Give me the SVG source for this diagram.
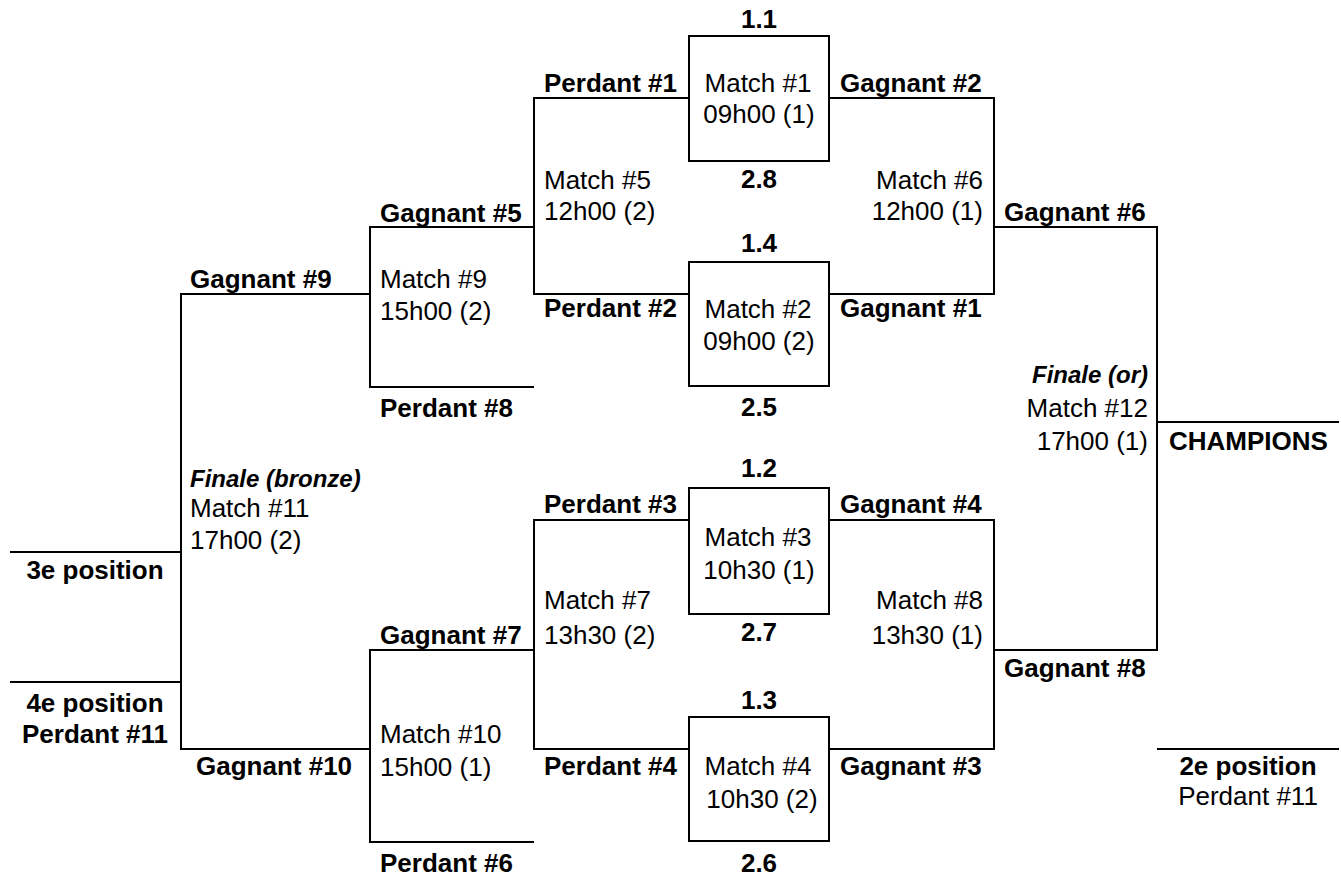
<svg xmlns="http://www.w3.org/2000/svg" width="1341" height="882" viewBox="0 0 1341 882">
<style>
.ln{fill:none;stroke:#000;stroke-width:2}
.bx{fill:#fff;stroke:#000;stroke-width:2}
text{font-family:"Liberation Sans",Arial,sans-serif;font-size:26px;fill:#000}
.b{font-weight:bold}
.i{font-style:italic;font-size:24px}
.m{text-anchor:middle}
.e{text-anchor:end}
</style>
<rect width="1341" height="882" fill="#fff"/>
<g id="connectors">
<path class="ln" d="M689,98 H534 V294 H689"/>
<path class="ln" d="M829,98 H994 V294 H829"/>
<path class="ln" d="M689,520 H534 V749 H689"/>
<path class="ln" d="M829,520 H994 V749 H829"/>
<path class="ln" d="M534,227 H370 V387 H534"/>
<path class="ln" d="M534,650 H370 V842 H534"/>
<path class="ln" d="M370,294 H181 V749 H370"/>
<path class="ln" d="M994,227 H1157 V650 H994"/>
<path class="ln" d="M10,552 H181"/>
<path class="ln" d="M10,682 H181"/>
<path class="ln" d="M1157,422 H1339"/>
<path class="ln" d="M1157,749 H1339"/>
<g id="connector-labels">
<text class="b" x="544" y="92">Perdant #1</text>
<text class="b" x="840" y="92">Gagnant #2</text>
<text class="b" x="544" y="317">Perdant #2</text>
<text class="b" x="840" y="317">Gagnant #1</text>
<text class="b" x="544" y="513">Perdant #3</text>
<text class="b" x="840" y="513">Gagnant #4</text>
<text class="b" x="544" y="775">Perdant #4</text>
<text class="b" x="840" y="775">Gagnant #3</text>
<text class="b" x="380" y="222">Gagnant #5</text>
<text class="b" x="1004" y="221">Gagnant #6</text>
<text class="b" x="380" y="417">Perdant #8</text>
<text class="b" x="380" y="644">Gagnant #7</text>
<text class="b" x="1004" y="677">Gagnant #8</text>
<text class="b" x="380" y="872">Perdant #6</text>
<text class="b" x="190" y="288">Gagnant #9</text>
<text class="b" x="196" y="775">Gagnant #10</text>
</g>
</g>
<g id="match1">
<rect class="bx" x="689" y="36" width="140" height="125"/>
<text class="b m" x="759" y="28">1.1</text>
<text class="m" x="758" y="92">Match #1</text>
<text class="m" x="759" y="123">09h00 (1)</text>
<text class="b m" x="759" y="188">2.8</text>
</g>
<g id="match2">
<rect class="bx" x="689" y="262" width="140" height="124"/>
<text class="b m" x="759" y="252">1.4</text>
<text class="m" x="758" y="318">Match #2</text>
<text class="m" x="759" y="350">09h00 (2)</text>
<text class="b m" x="759" y="416">2.5</text>
</g>
<g id="match3">
<rect class="bx" x="689" y="488" width="140" height="126"/>
<text class="b m" x="759" y="477">1.2</text>
<text class="m" x="758" y="546">Match #3</text>
<text class="m" x="759" y="579">10h30 (1)</text>
<text class="b m" x="759" y="641">2.7</text>
</g>
<g id="match4">
<rect class="bx" x="689" y="717" width="140" height="124"/>
<text class="b m" x="759" y="709">1.3</text>
<text class="m" x="758" y="775">Match #4</text>
<text class="m" x="762" y="808">10h30 (2)</text>
<text class="b m" x="759" y="872">2.6</text>
</g>
<g id="match5">
<text x="544" y="189">Match #5</text>
<text x="544" y="220">12h00 (2)</text>
</g>
<g id="match6">
<text class="e" x="983" y="189">Match #6</text>
<text class="e" x="983" y="220">12h00 (1)</text>
</g>
<g id="match7">
<text x="544" y="609">Match #7</text>
<text x="544" y="644">13h30 (2)</text>
</g>
<g id="match8">
<text class="e" x="983" y="609">Match #8</text>
<text class="e" x="983" y="644">13h30 (1)</text>
</g>
<g id="match9">
<text x="380" y="288">Match #9</text>
<text x="380" y="320">15h00 (2)</text>
</g>
<g id="match10">
<text x="380" y="743">Match #10</text>
<text x="380" y="776">15h00 (1)</text>
</g>
<g id="match11">
<text class="b i" x="190" y="487">Finale (bronze)</text>
<text x="190" y="517">Match #11</text>
<text x="190" y="549">17h00 (2)</text>
</g>
<g id="match12">
<text class="b i e" x="1148" y="383">Finale (or)</text>
<text class="e" x="1148" y="417">Match #12</text>
<text class="e" x="1148" y="450">17h00 (1)</text>
</g>
<g id="champions">
<text class="b" x="1169" y="450">CHAMPIONS</text>
</g>
<g id="second">
<text class="b m" x="1248" y="775">2e position</text>
<text class="m" x="1248" y="805">Perdant #11</text>
</g>
<g id="third">
<text class="b m" x="95" y="579">3e position</text>
</g>
<g id="fourth">
<text class="b m" x="95" y="712">4e position</text>
<text class="b m" x="95" y="743">Perdant #11</text>
</g>
</svg>
